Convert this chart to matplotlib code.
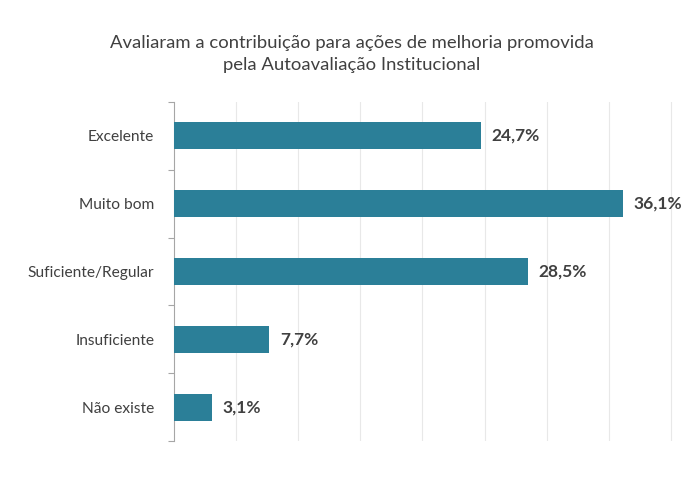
import numpy as np
import matplotlib.pyplot as plt
from matplotlib.ticker import FixedLocator

plt.rcParams['font.family'] = ['Lato', 'DejaVu Sans']

categorias = ['Excelente', 'Muito bom', 'Suficiente/Regular', 'Insuficiente', 'Não existe']
percentuais = [24.7, 36.1, 28.5, 7.7, 3.1]
rotulos = ['24,7%', '36,1%', '28,5%', '7,7%', '3,1%']

cor_barra = '#2B7F98'
cor_texto = '#404040'

fig = plt.figure(figsize=(6.84, 4.78), dpi=100)
ax = fig.add_axes([0.254, 0.077, 0.730, 0.710])

y = np.arange(len(categorias))
ax.barh(y, percentuais, height=0.4, color=cor_barra, zorder=3)

# rótulos de valor ao lado de cada barra
for yi, v, txt in zip(y, percentuais, rotulos):
    ax.text(v + 0.85, yi, txt, va='center', ha='left', fontsize=12.5,
            fontweight='bold', color=cor_texto, clip_on=False)

ax.set_xlim(0, 40.15)
ax.set_ylim(len(categorias) - 0.5, -0.5)
ax.set_yticks(y)
ax.set_yticklabels(categorias, fontsize=11.2, color=cor_texto)
ax.yaxis.set_minor_locator(FixedLocator(np.arange(-0.5, len(categorias), 1)))
ax.tick_params(axis='y', which='major', length=0, pad=14)
ax.tick_params(axis='y', which='minor', length=4, color='#A6A6A6', width=0.8)

ax.xaxis.set_major_locator(FixedLocator(np.arange(5, 41, 5)))
ax.tick_params(axis='x', length=0, labelbottom=False)
ax.grid(axis='x', color='#E8E8E8', linewidth=0.8, zorder=0)

for lado in ['top', 'right', 'bottom']:
    ax.spines[lado].set_visible(False)
ax.spines['left'].set_color('#A6A6A6')
ax.spines['left'].set_linewidth(0.8)

fig.text(0.514, 0.887, 'Avaliaram a contribuição para ações de melhoria promovida\n'
         'pela Autoavaliação Institucional', ha='center', va='center',
         fontsize=13.3, color=cor_texto, linespacing=1.5)

fig.savefig('out.png', dpi=100, facecolor='white')
